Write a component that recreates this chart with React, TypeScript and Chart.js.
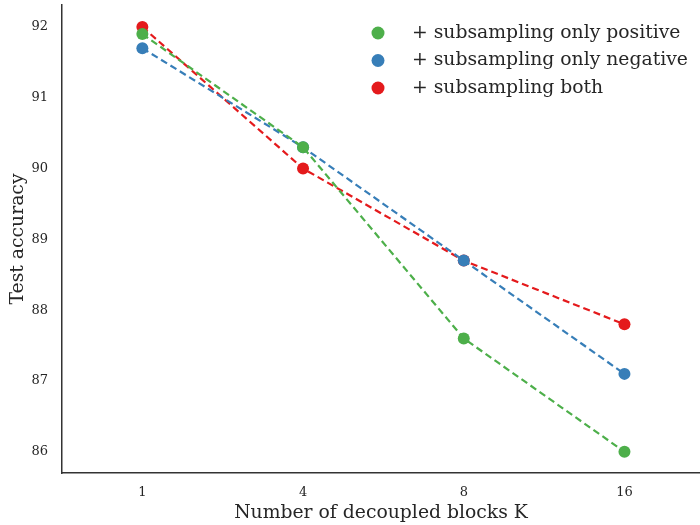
import React, { useEffect, useRef } from "react";
import { Chart, registerables } from "chart.js";
Chart.register(...registerables);

const categories = ["1", "4", "8", "16"];
const onlyPositive = [91.9, 90.3, 87.6, 86.0];
const onlyNegative = [91.7, 90.3, 88.7, 87.1];
const both = [92.0, 90.0, 88.7, 87.8];
const seriesNames = ["+ subsampling only positive", "+ subsampling only negative", "+ subsampling both"];
const colors = ["#4daf4a", "#377eb8", "#e41a1c"];
const yTicks = [86, 87, 88, 89, 90, 91, 92];

const FONT = "'DejaVu Serif', serif";

const legendPlugin = {
  id: "customLegend",
  afterDraw(chart: any) {
    const ctx = chart.ctx;
    ctx.save();
    chart.data.datasets.forEach((ds: any, i: number) => {
      const y = 33 + i * 27.5;
      ctx.beginPath();
      ctx.fillStyle = ds.borderColor;
      ctx.arc(378, y, 6.5, 0, Math.PI * 2);
      ctx.fill();
      ctx.fillStyle = "#262626";
      ctx.font = `18.8px ${FONT}`;
      ctx.textBaseline = "middle";
      ctx.textAlign = "left";
      ctx.fillText(ds.label, 412, y);
    });
    ctx.restore();
  },
};

const zeroPad = (axis: any) => {
  axis.paddingTop = 0;
  axis.paddingBottom = 0;
  axis.paddingLeft = 0;
  axis.paddingRight = 0;
};

export default function App() {
  const ref = useRef<HTMLCanvasElement>(null);
  useEffect(() => {
    const series = [onlyPositive, onlyNegative, both];
    const chart = new Chart(ref.current!, {
      type: "line",
      data: {
        datasets: series.map((vals, i) => ({
          label: seriesNames[i],
          data: vals.map((v, j) => ({ x: j, y: v })),
          borderColor: colors[i],
          backgroundColor: colors[i],
          pointBackgroundColor: colors[i],
          pointBorderColor: colors[i],
          pointRadius: 6,
          pointBorderWidth: 0,
          borderWidth: 2.2,
          borderDash: [7, 4],
          tension: 0,
          clip: false,
        })),
      },
      options: {
        animation: false,
        responsive: false,
        layout: { autoPadding: false, padding: { top: 5, right: 0, left: 0, bottom: 0 } },
        plugins: { legend: { display: false }, tooltip: { enabled: false } },
        scales: {
          x: {
            type: "linear",
            min: -0.5,
            max: 3.47,
            afterBuildTicks: (axis: any) => {
              axis.ticks = categories.map((_, i) => ({ value: i }));
            },
            afterFit: (axis: any) => {
              axis.height = 52;
              zeroPad(axis);
            },
            grid: { display: false, drawTicks: false },
            border: { display: true, color: "#333333", width: 1.5 },
            ticks: {
              padding: 12,
              color: "#262626",
              font: { family: FONT, size: 13 },
              callback: (v: any) => categories[v] ?? "",
            },
            title: {
              display: true,
              text: "Number of decoupled blocks K",
              color: "#262626",
              font: { family: FONT, size: 18.8 },
              padding: { top: 4, bottom: 1 },
            },
          },
          y: {
            min: 85.7,
            max: 92.31,
            afterBuildTicks: (axis: any) => {
              axis.ticks = yTicks.map((v) => ({ value: v }));
            },
            afterFit: (axis: any) => {
              axis.width = 62;
              zeroPad(axis);
            },
            grid: { display: false, drawTicks: false },
            border: { display: true, color: "#333333", width: 1.5 },
            ticks: {
              padding: 14,
              color: "#262626",
              font: { family: FONT, size: 13 },
            },
            title: {
              display: true,
              text: "Test accuracy",
              color: "#262626",
              font: { family: FONT, size: 18.8 },
              padding: { top: 7, bottom: 4 },
            },
          },
        },
      },
      plugins: [legendPlugin],
    });
    return () => chart.destroy();
  }, []);
  return (
    <div style={{ position: "absolute", left: 0, top: 0, width: 700, height: 525, background: "#fff" }}>
      <canvas ref={ref} width={700} height={525} />
    </div>
  );
}
